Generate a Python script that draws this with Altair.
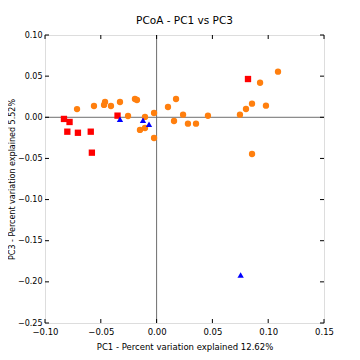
import altair as alt
import pandas as pd

# Orange circles
orange_x = [-0.0713, -0.0561, -0.0462, -0.0471, -0.0409, -0.0328, -0.0256, -0.0194, -0.0176,
            -0.0149, -0.0104, -0.0104, -0.0023, -0.0023, 0.0102, 0.0156, 0.0174, 0.0237,
            0.0281, 0.0353, 0.0460, 0.0747, 0.0801, 0.0855, 0.0927, 0.0980, 0.1088, 0.0855]
orange_y = [0.0100, 0.0137, 0.0186, 0.0150, 0.0137, 0.0186, 0.0016, 0.0222, 0.0210,
            -0.0154, -0.0130, 0.0004, 0.0052, -0.0252, 0.0125, -0.0045, 0.0222, 0.0032,
            -0.0078, -0.0078, 0.0019, 0.0032, 0.0101, 0.0165, 0.0420, 0.0141, 0.0554, -0.0446]
# Red squares
red_x = [-0.0830, -0.0780, -0.0800, -0.0705, -0.0590, -0.0580, -0.0350, 0.0819]
red_y = [-0.0020, -0.0057, -0.0175, -0.0188, -0.0175, -0.0430, 0.0020, 0.0465]
# Blue triangles
blue_x = [-0.0328, -0.0122, -0.0068, 0.0753]
blue_y = [-0.0024, -0.0036, -0.0085, -0.1917]

x_ticks = [-0.10, -0.05, 0.00, 0.05, 0.10, 0.15]
y_ticks = [-0.25, -0.20, -0.15, -0.10, -0.05, 0.00, 0.05, 0.10]

groups = ["orange", "red", "blue"]
colors = ["#ff7f0e", "#ff0000", "#0000ff"]
shapes = ["circle", "square", "triangle-up"]

df = pd.concat([
    pd.DataFrame({"x": orange_x, "y": orange_y, "g": "orange"}),
    pd.DataFrame({"x": red_x, "y": red_y, "g": "red"}),
    pd.DataFrame({"x": blue_x, "y": blue_y, "g": "blue"}),
])

FONT = "DejaVu Sans"
W, H = 279, 288
xs = alt.Scale(domain=[-0.10, 0.15], nice=False, zero=False)
ys = alt.Scale(domain=[-0.25, 0.10], nice=False, zero=False)

zero = pd.DataFrame({"z": [0.0]})
vline = alt.Chart(zero).mark_rule(color="#6e6e6e", strokeWidth=1).encode(x=alt.X("z:Q", scale=xs))
hline = alt.Chart(zero).mark_rule(color="#6e6e6e", strokeWidth=1).encode(y=alt.Y("z:Q", scale=ys))

points = alt.Chart(df).mark_point(filled=True, size=40, opacity=1).encode(
    x=alt.X("x:Q", scale=xs, axis=alt.Axis(values=x_ticks, format=".2f", ticks=False, grid=False,
                                            domain=False, labelFont=FONT, labelFontSize=8.5,
                                            labelPadding=4, labelColor="black",
                                            title="PC1 - Percent variation explained 12.62%",
                                            titleFont=FONT, titleFontSize=8.5, titleFontWeight="normal",
                                            titlePadding=7, titleColor="black", labelFlush=False)),
    y=alt.Y("y:Q", scale=ys, axis=alt.Axis(values=y_ticks, format=".2f", ticks=False, grid=False,
                                            domain=False, labelFont=FONT, labelFontSize=8,
                                            labelPadding=3, labelColor="black",
                                            title="PC3 - Percent variation explained 5.52%",
                                            titleFont=FONT, titleFontSize=8, titleFontWeight="normal",
                                            titlePadding=1, titleColor="black", labelFlush=False)),
    color=alt.Color("g:N", scale=alt.Scale(domain=groups, range=colors), legend=None),
    shape=alt.Shape("g:N", scale=alt.Scale(domain=groups, range=shapes), legend=None),
)

xt = pd.DataFrame({"v": x_ticks})
yt = pd.DataFrame({"v": y_ticks})
tick_style = dict(color="black", strokeWidth=1)
bt = alt.Chart(xt).mark_rule(**tick_style).encode(x=alt.X("v:Q", scale=xs), y=alt.value(H), y2=alt.value(H - 4))
tt = alt.Chart(xt).mark_rule(**tick_style).encode(x=alt.X("v:Q", scale=xs), y=alt.value(0), y2=alt.value(4))
lt = alt.Chart(yt).mark_rule(**tick_style).encode(y=alt.Y("v:Q", scale=ys), x=alt.value(0), x2=alt.value(4))
rt = alt.Chart(yt).mark_rule(**tick_style).encode(y=alt.Y("v:Q", scale=ys), x=alt.value(W), x2=alt.value(W - 4))

chart = alt.layer(vline, hline, points, bt, tt, lt, rt).properties(
    width=W, height=H,
    title=alt.TitleParams("PCoA - PC1 vs PC3", font=FONT, fontSize=10.5, fontWeight="normal",
                          anchor="middle", color="black", offset=5),
    autosize=alt.AutoSizeParams(type="none"),
    padding={"left": 37, "top": 27, "right": 28, "bottom": 29},
).configure_view(stroke="black", strokeWidth=1).configure(background="white")

chart.save("out.html", embed_options={"renderer": "svg", "actions": False})
